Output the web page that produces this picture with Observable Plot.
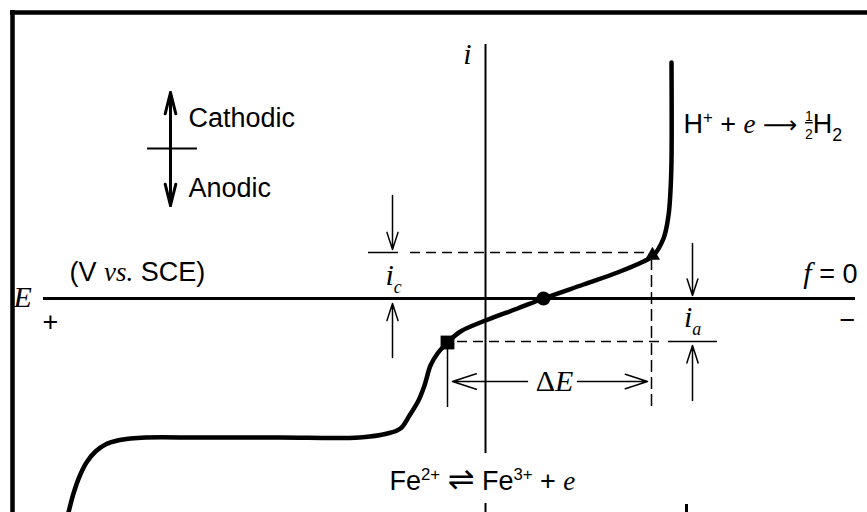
<!DOCTYPE html>
<html><head><meta charset="utf-8">
<script src="https://cdn.jsdelivr.net/npm/d3@7"></script>
<script src="https://cdn.jsdelivr.net/npm/@observablehq/plot@0.6"></script>
<style>body{margin:0;background:#fff;overflow:hidden}</style>
</head><body><div id="chart"></div>
<script>
// Polarization curve (abstract units; E grows more negative to the right, i > 0 cathodic)
const curveE = [-4.17,-4.12,-4.06,-3.99,-3.90,-3.80,-3.68,-3.55,-3.40,-2.85,-2.05,-1.26,-0.98,-0.85,-0.76,-0.67,-0.61,-0.55,-0.48,-0.38,-0.25,0.00,0.32,0.58,0.98,1.32,1.58,1.67,1.78,1.83,1.85,1.86,1.86];
const curveI = [-2.14,-1.95,-1.78,-1.64,-1.53,-1.46,-1.42,-1.40,-1.39,-1.39,-1.39,-1.39,-1.35,-1.30,-1.17,-1.02,-0.87,-0.67,-0.55,-0.44,-0.33,-0.22,-0.10,0.00,0.14,0.26,0.37,0.42,0.60,0.83,1.08,1.38,2.36];

// Marked points on the curve
const markerE = [-0.38, 0.58, 1.67];
const markerI = [-0.44, 0.00, 0.43];
const markerSymbol = ["square", "circle", "triangle"];

// Key current levels and potentials
const icLevel = 0.46;    // cathodic current level (dashed)
const iaLevel = -0.43;   // anodic current level (dashed)
const eLeft = -0.38;     // potential of the square point
const eRight = 1.66;     // potential of the triangle point
const deltaELevel = -0.83;

// Labels
const labelTexts = ["Cathodic","Anodic","H+ + e → 1/2 H2","(V vs. SCE)","E","+","−","f = 0","i","ic","ia","ΔE","Fe2+ ⇌ Fe3+ + e"];
const labelE = [-2.97,-2.97,1.98,-4.16,-4.72,-4.35,3.62,3.72,-0.18,-0.92,2.07,0.69,-0.96];
const labelI = [1.80,1.10,1.74,0.26,0.00,-0.24,-0.22,0.24,2.43,0.22,-0.20,-0.84,-1.83];
const labelAnchor = ["start","start","start","start","start","middle","middle","end","middle","middle","middle","middle","start"];

const curve = curveE.map((e, k) => ({E: e, i: curveI[k]}));
const markers = markerE.map((e, k) => ({E: e, i: markerI[k], s: markerSymbol[k]}));
const labels = labelTexts.map((t, k) => ({text: t, E: labelE[k], i: labelI[k], a: labelAnchor[k]}));

const thin = 1.5;
const marks = [
  // frame
  Plot.ruleY([2.86], {x1: -4.75, x2: 3.82, strokeWidth: 4.5}),
  Plot.ruleX([-4.73], {y1: 2.88, y2: -2.14, strokeWidth: 4.5}),
  // axes
  Plot.ruleY([0], {x1: -4.42, x2: 3.70, strokeWidth: 3}),
  Plot.ruleX([0], {y1: 2.54, y2: -1.55, strokeWidth: 2}),
  Plot.ruleX([0], {y1: -2.05, y2: -2.14, strokeWidth: 2}),
  Plot.ruleX([2.01], {y1: -2.06, y2: -2.14, strokeWidth: 3}),
  // current levels
  Plot.ruleY([icLevel], {x1: -1.17, x2: -0.87, strokeWidth: thin}),
  Plot.ruleY([icLevel], {x1: -0.75, x2: eRight - 0.02, strokeWidth: thin, strokeDasharray: "10,6"}),
  Plot.ruleY([iaLevel], {x1: -0.28, x2: 1.80, strokeWidth: thin, strokeDasharray: "10,6"}),
  Plot.ruleY([iaLevel], {x1: 1.83, x2: 2.32, strokeWidth: thin}),
  Plot.ruleX([eRight], {y1: 0.40, y2: -1.09, strokeWidth: thin, strokeDasharray: "12,5"}),
  Plot.ruleX([eLeft], {y1: -0.50, y2: -1.09, strokeWidth: thin}),
  // ic / ia arrows
  Plot.arrow([
    {x1: -0.93, y1: 1.03, x2: -0.93, y2: 0.49},
    {x1: -0.93, y1: -0.59, x2: -0.93, y2: -0.05},
    {x1: 2.07, y1: 0.55, x2: 2.07, y2: 0.03},
    {x1: 2.07, y1: -1.02, x2: 2.07, y2: -0.47}
  ], {x1: "x1", y1: "y1", x2: "x2", y2: "y2", strokeWidth: thin, headLength: 24, headAngle: 36}),
  // ΔE arrows
  Plot.arrow([
    {x1: 0.42, y1: deltaELevel, x2: -0.33, y2: deltaELevel},
    {x1: 0.92, y1: deltaELevel, x2: 1.62, y2: deltaELevel}
  ], {x1: "x1", y1: "y1", x2: "x2", y2: "y2", strokeWidth: thin, headLength: 26, headAngle: 36}),
  // Cathodic / Anodic indicator
  Plot.ruleY([1.50], {x1: -3.38, x2: -2.88, strokeWidth: 2}),
  Plot.arrow([
    {x1: -3.15, y1: 0.93, x2: -3.15, y2: 2.06},
    {x1: -3.15, y1: 2.06, x2: -3.15, y2: 0.93}
  ], {x1: "x1", y1: "y1", x2: "x2", y2: "y2", strokeWidth: 3, headLength: 11, headAngle: 28}),
  // curve
  Plot.line(curve, {x: "E", y: "i", curve: "catmull-rom", strokeWidth: 4.5, strokeLinecap: "round", strokeLinejoin: "round"}),
  Plot.dot(markers.filter(d => d.s === "square"), {x: "E", y: "i", symbol: "square", r: 7.8, fill: "black"}),
  Plot.dot(markers.filter(d => d.s === "circle"), {x: "E", y: "i", symbol: "circle", r: 7, fill: "black"}),
  Plot.dot(markers.filter(d => d.s === "triangle"), {x: "E", y: "i", symbol: "triangle", r: 5.6, fill: "black"}),
];
for (const a of ["start", "middle", "end"]) {
  marks.push(Plot.text(labels.filter(d => d.a === a), {x: "E", y: "i", text: "text", textAnchor: a, lineAnchor: "middle", fontSize: 27, fill: "black"}));
}

const chart = Plot.plot({
  width: 867, height: 512, margin: 0,
  x: {domain: [-4.85, 3.82], axis: null},
  y: {domain: [-2.14, 2.98], axis: null},
  style: {fontFamily: "'Liberation Sans', Arial, sans-serif", background: "#fff", color: "black"},
  marks
});

// Rich typesetting for labels (italics, superscripts, subscripts, stacked fraction)
const serif = "'Liberation Serif', 'Times New Roman', serif";
const symfont = "'DejaVu Sans', sans-serif";
const richDefs = {
  "H+ + e → 1/2 H2": [{t: "H"}, {t: "+", sup: 1}, {t: " + "}, {t: "e", it: 1}, {t: " "}, {t: "⟶", sym: 24}, {t: " "}, {frac: ["1", "2"]}, {t: "H"}, {t: "2", sub: 1}],
  "Fe2+ ⇌ Fe3+ + e": [{t: "Fe"}, {t: "2+", sup: 1}, {t: " "}, {t: "⇌", sym: 32}, {t: " "}, {t: "Fe"}, {t: "3+", sup: 1}, {t: " + "}, {t: "e", it: 1}],
  "(V vs. SCE)": [{t: "(V "}, {t: "vs.", it: 1}, {t: " SCE)"}],
  "f = 0": [{t: "f", it: 1, big: 1}, {t: " = 0"}],
  "ic": [{t: "i", it: 1, big: 1}, {t: "c", it: 1, sub: 1}],
  "ia": [{t: "i", it: 1, big: 1}, {t: "a", it: 1, sub: 1}],
  "ΔE": [{t: "Δ", serif: 1, big: 1}, {t: "E", it: 1, big: 1}],
  "E": [{t: "E", it: 1, big: 1}],
  "i": [{t: "i", it: 1, big: 1}]
};
const base = 27;
d3.select(chart).selectAll("text").each(function () {
  const key = this.textContent;
  const segs = richDefs[key];
  if (!segs) return;
  const sel = d3.select(this);
  sel.text(null);
  let shift = 0;
  const add = (t, target, size, opts = {}) => {
    const ts = sel.append("tspan").text(t).attr("font-size", size);
    const dy = target - shift;
    if (dy) ts.attr("dy", dy);
    if (opts.dx) ts.attr("dx", opts.dx);
    if (opts.it) ts.attr("font-family", serif).attr("font-style", "italic");
    if (opts.serif) ts.attr("font-family", serif);
    if (opts.sym) ts.attr("font-family", symfont);
    if (opts.under) ts.style("text-decoration", "underline");
    shift = target;
    return ts;
  };
  for (const s of segs) {
    if (s.frac) {
      const fs = 0.52 * base;
      add(s.frac[0], -0.45 * base, fs, {under: 1});
      add(s.frac[1], 0.2 * base, fs, {dx: -0.556 * fs});
      continue;
    }
    let target = 0, size = s.big ? 30 : (s.sym ? s.sym : base);
    if (s.sup) { target = -0.38 * base; size = 0.62 * base; }
    if (s.sub) { target = 0.30 * base; size = 0.66 * base; }
    add(s.t, target, size, s);
  }
});

document.getElementById("chart").appendChild(chart);
</script>
</body></html>
